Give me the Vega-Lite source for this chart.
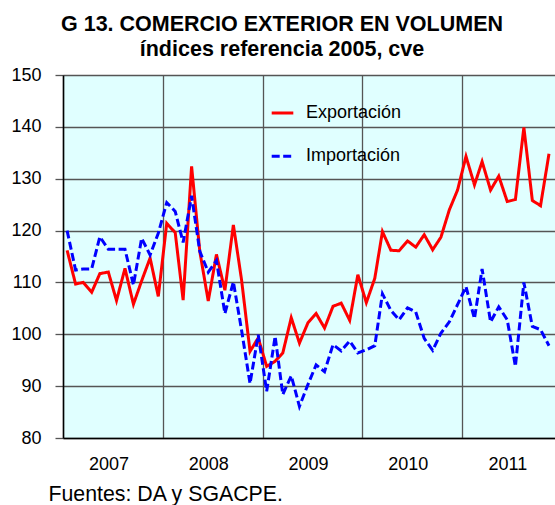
{
  "$schema": "https://vega.github.io/schema/vega-lite/v6.json",
  "width": 492,
  "height": 363,
  "autosize": {"type": "none"},
  "padding": {"left": 63, "top": 75, "right": 0, "bottom": 67},
  "background": "white",
  "config": {
    "font": "Liberation Sans",
    "view": {"fill": "#E0FFFF", "stroke": null}
  },
  "title": {
    "text": ["G 13. COMERCIO EXTERIOR EN VOLUMEN", "índices referencia 2005, cve"],
    "fontSize": 21.5,
    "fontWeight": "bold",
    "lineHeight": 25,
    "anchor": "middle",
    "dx": -27,
    "offset": 6,
    "color": "black",
    "font": "Liberation Sans"
  },
  "data": {
    "values": [
      {"fecha": "2007-01-16", "Exportación": 116.2, "Importación": 120.0},
      {"fecha": "2007-02-16", "Exportación": 109.7, "Importación": 112.4},
      {"fecha": "2007-03-16", "Exportación": 110.0, "Importación": 112.6},
      {"fecha": "2007-04-16", "Exportación": 108.1, "Importación": 112.6},
      {"fecha": "2007-05-16", "Exportación": 111.7, "Importación": 118.8},
      {"fecha": "2007-06-16", "Exportación": 112.0, "Importación": 116.4},
      {"fecha": "2007-07-16", "Exportación": 106.5, "Importación": 116.4},
      {"fecha": "2007-08-16", "Exportación": 112.7, "Importación": 116.4},
      {"fecha": "2007-09-16", "Exportación": 105.8, "Importación": 109.5},
      {"fecha": "2007-10-16", "Exportación": 110.3, "Importación": 118.5},
      {"fecha": "2007-11-16", "Exportación": 114.7, "Importación": 115.3},
      {"fecha": "2007-12-16", "Exportación": 107.3, "Importación": 119.5},
      {"fecha": "2008-01-16", "Exportación": 121.4, "Importación": 125.4},
      {"fecha": "2008-02-16", "Exportación": 119.6, "Importación": 123.7},
      {"fecha": "2008-03-16", "Exportación": 106.6, "Importación": 117.7},
      {"fecha": "2008-04-16", "Exportación": 132.4, "Importación": 126.7},
      {"fecha": "2008-05-16", "Exportación": 116.0, "Importación": 116.0},
      {"fecha": "2008-06-16", "Exportación": 106.4, "Importación": 112.0},
      {"fecha": "2008-07-16", "Exportación": 115.4, "Importación": 114.2},
      {"fecha": "2008-08-16", "Exportación": 108.5, "Importación": 104.0},
      {"fecha": "2008-09-16", "Exportación": 121.1, "Importación": 110.1},
      {"fecha": "2008-10-16", "Exportación": 110.5, "Importación": 100.8},
      {"fecha": "2008-11-16", "Exportación": 96.7, "Importación": 90.5},
      {"fecha": "2008-12-16", "Exportación": 99.3, "Importación": 99.9},
      {"fecha": "2009-01-16", "Exportación": 93.8, "Importación": 89.0},
      {"fecha": "2009-02-16", "Exportación": 94.8, "Importación": 99.6},
      {"fecha": "2009-03-16", "Exportación": 96.4, "Importación": 88.4},
      {"fecha": "2009-04-16", "Exportación": 103.2, "Importación": 92.0},
      {"fecha": "2009-05-16", "Exportación": 98.3, "Importación": 86.1},
      {"fecha": "2009-06-16", "Exportación": 102.2, "Importación": 90.3},
      {"fecha": "2009-07-16", "Exportación": 104.0, "Importación": 94.1},
      {"fecha": "2009-08-16", "Exportación": 101.2, "Importación": 92.8},
      {"fecha": "2009-09-16", "Exportación": 105.4, "Importación": 98.0},
      {"fecha": "2009-10-16", "Exportación": 106.0, "Importación": 96.8},
      {"fecha": "2009-11-16", "Exportación": 102.7, "Importación": 98.7},
      {"fecha": "2009-12-16", "Exportación": 111.5, "Importación": 96.4},
      {"fecha": "2010-01-16", "Exportación": 106.1, "Importación": 97.0},
      {"fecha": "2010-02-16", "Exportación": 110.8, "Importación": 97.8},
      {"fecha": "2010-03-16", "Exportación": 119.8, "Importación": 107.8},
      {"fecha": "2010-04-16", "Exportación": 116.2, "Importación": 104.6},
      {"fecha": "2010-05-16", "Exportación": 116.1, "Importación": 102.8},
      {"fecha": "2010-06-16", "Exportación": 118.0, "Importación": 105.1},
      {"fecha": "2010-07-16", "Exportación": 116.8, "Importación": 104.3},
      {"fecha": "2010-08-16", "Exportación": 119.2, "Importación": 99.2},
      {"fecha": "2010-09-16", "Exportación": 116.3, "Importación": 96.9},
      {"fecha": "2010-10-16", "Exportación": 118.7, "Importación": 100.2},
      {"fecha": "2010-11-16", "Exportación": 124.0, "Importación": 102.4},
      {"fecha": "2010-12-16", "Exportación": 127.8, "Importación": 105.7},
      {"fecha": "2011-01-16", "Exportación": 134.3, "Importación": 109.2},
      {"fecha": "2011-02-16", "Exportación": 128.8, "Importación": 103.0},
      {"fecha": "2011-03-16", "Exportación": 133.3, "Importación": 112.6},
      {"fecha": "2011-04-16", "Exportación": 127.8, "Importación": 102.4},
      {"fecha": "2011-05-16", "Exportación": 130.5, "Importación": 105.3},
      {"fecha": "2011-06-16", "Exportación": 125.6, "Importación": 102.8},
      {"fecha": "2011-07-16", "Exportación": 126.0, "Importación": 93.8},
      {"fecha": "2011-08-16", "Exportación": 139.9, "Importación": 110.0},
      {"fecha": "2011-09-16", "Exportación": 125.8, "Importación": 101.5},
      {"fecha": "2011-10-16", "Exportación": 124.8, "Importación": 100.9},
      {"fecha": "2011-11-16", "Exportación": 134.8, "Importación": 97.8}
    ]
  },
  "transform": [
    {"fold": ["Exportación", "Importación"], "as": ["serie", "valor"]}
  ],
  "mark": {"type": "line", "strokeWidth": 3, "strokeJoin": "miter"},
  "encoding": {
    "x": {
      "field": "fecha",
      "type": "temporal",
      "scale": {
        "type": "utc",
        "nice": false,
        "domain": [
          {"year": 2007, "month": 1, "date": 1, "utc": true},
          {"year": 2011, "month": 12, "date": 8, "utc": true}
        ]
      },
      "axis": {
        "values": [
          {"year": 2007, "month": 1, "date": 1, "utc": true},
          {"year": 2008, "month": 1, "date": 1, "utc": true},
          {"year": 2009, "month": 1, "date": 1, "utc": true},
          {"year": 2010, "month": 1, "date": 1, "utc": true},
          {"year": 2011, "month": 1, "date": 1, "utc": true}
        ],
        "format": "%Y",
        "formatType": "utc",
        "grid": true,
        "gridColor": "#555555",
        "gridWidth": 1.3,
        "gridOpacity": 1,
        "ticks": false,
        "domain": true,
        "domainColor": "black",
        "domainWidth": 1.5,
        "labelFontSize": 18,
        "labelColor": "black",
        "labelOffset": 45.5,
        "labelFlush": false,
        "labelAlign": "center",
        "labelOverlap": false,
        "labelBound": false,
        "labelPadding": 17,
        "title": "Fuentes: DA y SGACPE.",
        "titleFontSize": 21.3,
        "titleFontWeight": "normal",
        "titleColor": "black",
        "titleAnchor": "start",
        "titleAlign": "left",
        "titleBaseline": "alphabetic",
        "titleX": -15,
        "titleY": 62
      }
    },
    "y": {
      "field": "valor",
      "type": "quantitative",
      "scale": {"domain": [80, 150], "nice": false, "zero": false},
      "axis": {
        "values": [80, 90, 100, 110, 120, 130, 140, 150],
        "grid": true,
        "gridColor": "#555555",
        "gridWidth": 1.3,
        "gridOpacity": 1,
        "ticks": true,
        "tickSize": 8,
        "tickColor": "#555555",
        "tickWidth": 1.3,
        "domain": true,
        "domainColor": "black",
        "domainWidth": 1.5,
        "labelFontSize": 18,
        "labelColor": "black",
        "labelPadding": 14,
        "title": null
      }
    },
    "color": {
      "field": "serie",
      "type": "nominal",
      "scale": {"domain": ["Exportación", "Importación"], "range": ["#FF0000", "#0000FF"]},
      "legend": {
        "orient": "none",
        "legendX": 207,
        "legendY": 25.5,
        "title": null,
        "symbolType": "stroke",
        "symbolSize": 467,
        "symbolStrokeWidth": 3,
        "labelFontSize": 18,
        "labelColor": "black",
        "labelOffset": 11,
        "rowPadding": 21.3,
        "padding": 0
      }
    },
    "strokeDash": {
      "field": "serie",
      "type": "nominal",
      "scale": {"domain": ["Exportación", "Importación"], "range": [[1, 0], [8, 3.5]]},
      "legend": {
        "orient": "none",
        "legendX": 207,
        "legendY": 25.5,
        "title": null,
        "symbolType": "stroke",
        "symbolSize": 467,
        "symbolStrokeWidth": 3,
        "labelFontSize": 18,
        "labelColor": "black",
        "labelOffset": 11,
        "rowPadding": 21.3,
        "padding": 0
      }
    }
  }
}
